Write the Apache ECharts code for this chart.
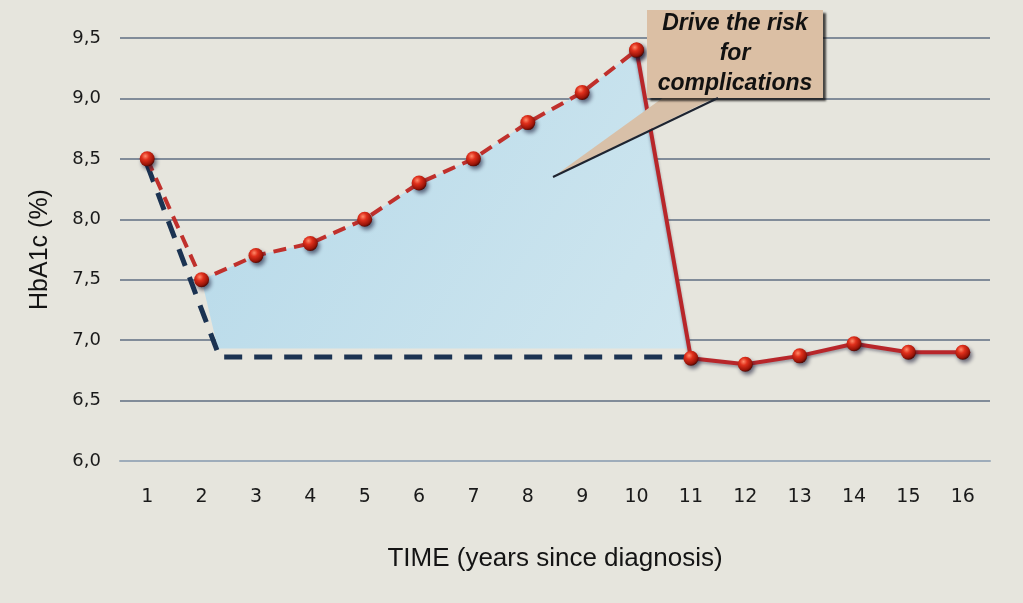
<!DOCTYPE html>
<html>
<head>
<meta charset="utf-8">
<script src="https://cdn.jsdelivr.net/npm/echarts@6/dist/echarts.min.js"></script>
<style>
html,body{margin:0;padding:0;background:#e6e5dd;}
#chart{width:1023px;height:603px;}
</style>
</head>
<body>
<div id="chart"></div>
<script>
// ---- data ----
var categories = ['1','2','3','4','5','6','7','8','9','10','11','12','13','14','15','16'];
var yTicks = [6.0, 6.5, 7.0, 7.5, 8.0, 8.5, 9.0, 9.5];
// uncontrolled HbA1c (years 1-10), red dashed
var redDashed = [8.5, 7.5, 7.7, 7.8, 8.0, 8.3, 8.5, 8.8, 9.05, 9.4];
// after intensification (years 10-16), red solid
var redSolid = [9.4, 6.85, 6.8, 6.87, 6.97, 6.9, 6.9];
// target path, navy dashed  [year, value]
var targetPath = [[1, 8.45], [2.33, 6.86], [11, 6.86]];
// shaded excess area polygon [year, value]
var excessArea = [[2, 7.5], [3, 7.7], [4, 7.8], [5, 8.0], [6, 8.3], [7, 8.5], [8, 8.8], [9, 9.05], [10, 9.4], [10.95, 6.93], [2.3, 6.93]];
var calloutLines = ['Drive the risk', 'for', 'complications'];

// ---- build ----
var dashedData = categories.map(function (c, i) { return i < redDashed.length ? redDashed[i] : '-'; });
var solidStart = redDashed.length - 1;
var solidData = categories.map(function (c, i) { return i >= solidStart ? redSolid[i - solidStart] : '-'; });

var ballStyle = {
  color: {
    type: 'radial', x: 0.38, y: 0.32, r: 0.7,
    colorStops: [
      {offset: 0, color: '#ff8a6a'},
      {offset: 0.35, color: '#e0301c'},
      {offset: 0.8, color: '#9a1408'},
      {offset: 1, color: '#4a0804'}
    ]
  },
  shadowBlur: 4, shadowColor: 'rgba(20,20,50,0.6)', shadowOffsetX: 2, shadowOffsetY: 3
};

var chart = echarts.init(document.getElementById('chart'));
chart.setOption({
  backgroundColor: '#e6e5dd',
  animation: false,
  grid: {left: 120, right: 33, top: 38, bottom: 142},
  xAxis: [{
    type: 'category',
    data: categories,
    boundaryGap: true,
    axisLine: {lineStyle: {color: '#9eacba', width: 2}},
    axisTick: {alignWithLabel: true, inside: true, length: 4, lineStyle: {color: '#8090a0'}},
    axisLabel: {color: '#1a1a1a', fontSize: 19, margin: 27, fontFamily: 'DejaVu Sans'},
    name: 'TIME (years since diagnosis)',
    nameLocation: 'middle',
    nameGap: 85,
    nameTextStyle: {color: '#141414', fontSize: 26, fontFamily: 'Liberation Sans'}
  }, {
    type: 'value', min: 0.5, max: 16.5, show: false
  }],
  yAxis: {
    type: 'value',
    min: yTicks[0], max: yTicks[yTicks.length - 1], interval: 0.5,
    axisLine: {show: false},
    axisTick: {show: false},
    splitLine: {lineStyle: {color: '#5f6e82', width: 1.5}},
    axisLabel: {
      color: '#1a1a1a', fontSize: 18, margin: 19, fontFamily: 'DejaVu Sans',
      formatter: function (v) { return v.toFixed(1).replace('.', ','); }
    },
    name: 'HbA1c (%)',
    nameLocation: 'middle',
    nameGap: 67,
    nameRotate: 90,
    nameTextStyle: {color: '#141414', fontSize: 25, fontFamily: 'Liberation Sans'}
  },
  series: [{
    type: 'custom',
    xAxisIndex: 1,
    data: excessArea,
    silent: true,
    z: 1,
    renderItem: function (params, api) {
      if (params.dataIndex !== 0) return null;
      var pts = excessArea.map(function (p) { return api.coord(p); });
      return {
        type: 'polygon',
        shape: {points: pts},
        style: {
          fill: {
            type: 'linear', x: 0, y: 0, x2: 1, y2: 1,
            colorStops: [{offset: 0, color: '#b6d9e9'}, {offset: 1, color: '#cfe6ef'}]
          }
        }
      };
    }
  }, {
    type: 'line',
    xAxisIndex: 1,
    data: targetPath,
    symbol: 'none',
    z: 3,
    lineStyle: {color: '#1b3352', width: 5, type: [18, 12]}
  }, {
    type: 'line',
    data: solidData,
    symbol: 'circle',
    symbolSize: 15,
    z: 4,
    lineStyle: {color: '#b8262a', width: 4, shadowBlur: 3, shadowColor: 'rgba(30,30,60,0.4)', shadowOffsetY: 2},
    itemStyle: ballStyle
  }, {
    type: 'line',
    data: dashedData,
    symbol: 'circle',
    symbolSize: 15,
    z: 5,
    lineStyle: {color: '#c0302c', width: 4, type: [13, 8]},
    itemStyle: ballStyle
  }],
  graphic: [{
    type: 'polygon',
    z: 100,
    shape: {points: [[553, 177], [664, 97], [716, 97]]},
    style: {fill: '#d8c0a8'}
  }, {
    type: 'line',
    z: 101,
    shape: {x1: 553, y1: 177, x2: 718, y2: 98},
    style: {stroke: '#1e2430', lineWidth: 2}
  }, {
    type: 'rect',
    z: 100,
    shape: {x: 647, y: 10, width: 176, height: 88},
    style: {fill: '#dbbfa4', shadowBlur: 2, shadowColor: 'rgba(0,0,0,0.7)', shadowOffsetX: 3, shadowOffsetY: 3}
  }, {
    type: 'text',
    z: 102,
    x: 735, y: 54,
    style: {
      text: calloutLines.join('\n'),
      fill: '#111',
      font: 'italic bold 23px "Liberation Sans", Arial, sans-serif',
      lineHeight: 30,
      align: 'center',
      verticalAlign: 'middle'
    }
  }]
});
</script>
</body>
</html>
